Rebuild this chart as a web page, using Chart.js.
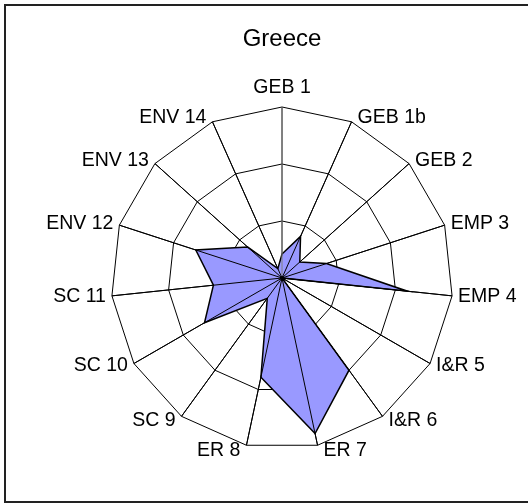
<!DOCTYPE html>
<html>
<head>
<meta charset="utf-8">
<script src="https://cdn.jsdelivr.net/npm/chart.js@4.4.0/dist/chart.umd.min.js"></script>
<style>
  html, body { margin: 0; padding: 0; background: #fff; overflow: hidden; }
  #wrap { position: relative; width: 528px; height: 503px; overflow: hidden; }
  #frame { position: absolute; left: 4px; top: 4px; width: 600px; height: 495px; border: 2px solid #222; pointer-events: none; }
  canvas { position: absolute; left: 0; top: 0; }
</style>
</head>
<body>
<div id="wrap">
  <canvas id="chart" width="528" height="503"></canvas>
  <div id="frame"></div>
</div>
<script>
// indicator names, clockwise from the top
const categories = [
  "GEB 1", "GEB 1b", "GEB 2", "EMP 3", "EMP 4", "I&R 5", "I&R 6", "ER 7",
  "ER 8", "SC 9", "SC 10", "SC 11", "ENV 12", "ENV 13", "ENV 14"
];

// Greece scores
const greeceScores = [0.42, 0.8, 0.42, 0.82, 2.21, 0, 2.0, 2.79, 1.78, 0.44, 1.57, 1.21, 1.59, 0.81, 0.18];

const scaleMin = 0;
const scaleMax = 3;
const ringStep = 1;

// excel draws the spokes over the filled area, chart.js draws them under it
const spokesOnTop = {
  id: "spokesOnTop",
  afterDatasetsDraw(chart) {
    const r = chart.scales.r;
    const ctx = chart.ctx;
    ctx.save();
    ctx.lineWidth = 1;
    categories.forEach((c, i) => {
      const p = r.getPointPositionForValue(i, scaleMax);
      ctx.strokeStyle = i === 0 ? "#808080" : "#000";
      ctx.beginPath();
      ctx.moveTo(r.xCenter, r.yCenter);
      ctx.lineTo(p.x, p.y);
      ctx.stroke();
    });
    ctx.fillStyle = "#000";
    ctx.beginPath();
    ctx.arc(r.xCenter, r.yCenter, 2, 0, Math.PI * 2);
    ctx.fill();
    ctx.restore();
  }
};

// category labels placed the excel way: beside the outer vertex, centred on it
const excelLabels = {
  id: "excelLabels",
  afterDraw(chart) {
    const r = chart.scales.r;
    const ctx = chart.ctx;
    ctx.save();
    ctx.font = "19.5px Arial, 'Liberation Sans', sans-serif";
    ctx.fillStyle = "#000";
    categories.forEach((c, i) => {
      const p = r.getPointPositionForValue(i, scaleMax);
      const a = r.getIndexAngle(i);
      const dx = p.x - r.xCenter;
      if (Math.abs(dx) < 1) {
        ctx.textAlign = "center";
        ctx.textBaseline = "alphabetic";
        ctx.fillText(c, p.x, p.y - 14);
        return;
      }
      ctx.textAlign = dx > 0 ? "left" : "right";
      ctx.textBaseline = "middle";
      ctx.fillText(c, p.x + (dx > 0 ? 6 : -6), p.y - 5 * Math.cos(a));
    });
    ctx.restore();
  }
};

Chart.defaults.font.family = "Arial, 'Liberation Sans', sans-serif";
Chart.defaults.color = "#000";

new Chart(document.getElementById("chart"), {
  type: "radar",
  data: {
    labels: categories,
    datasets: [{
      label: "Greece",
      data: greeceScores,
      backgroundColor: "#9999ff",
      borderColor: "#000",
      borderWidth: 1.5,
      pointRadius: 0,
      fill: true
    }]
  },
  options: {
    responsive: false,
    animation: false,
    layout: { padding: { left: 111, right: 75, top: 0, bottom: 25 } },
    plugins: {
      legend: { display: false },
      tooltip: { enabled: false },
      title: {
        display: true,
        text: "Greece",
        font: { size: 24, weight: "normal", lineHeight: 1.2 },
        padding: { top: 25, bottom: 26 }
      }
    },
    scales: {
      r: {
        min: scaleMin,
        max: scaleMax,
        ticks: { display: false, stepSize: ringStep },
        grid: { color: "#000", lineWidth: 1, circular: false },
        angleLines: { color: "#000", lineWidth: 1 },
        pointLabels: { display: false }
      }
    }
  },
  plugins: [spokesOnTop, excelLabels]
});
</script>
</body>
</html>
